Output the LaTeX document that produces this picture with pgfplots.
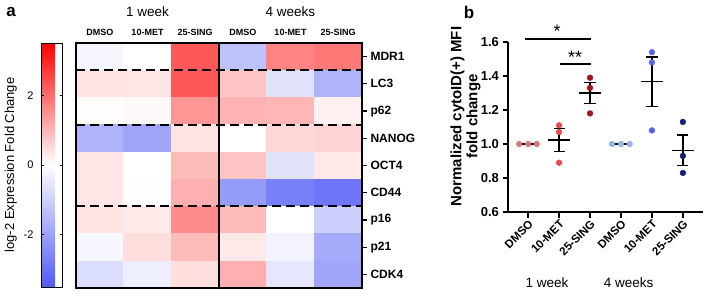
\documentclass[border=0pt]{standalone}
\usepackage{fontspec}
\setmainfont{Liberation Sans}
\usepackage{pgfplots}
\pgfplotsset{compat=1.18}
\definecolor{c1}{RGB}{215,120,125}
\definecolor{c2}{RGB}{235,75,80}
\definecolor{c3}{RGB}{165,20,30}
\definecolor{c4}{RGB}{150,180,225}
\definecolor{c5}{RGB}{85,100,235}
\definecolor{c6}{RGB}{20,30,120}
\begin{document}
\begin{tikzpicture}[x=1pt,y=1pt]
\useasboundingbox (0,0) rectangle (708,293);
\node[font=\bfseries\fontsize{17}{20}\selectfont] at (11,280.5) {a};
\node[font=\bfseries\fontsize{17}{20}\selectfont] at (469,280.5) {b};
% ---------------- heatmap ----------------
\begin{axis}[
  at={(76pt,5pt)}, anchor=south west,
  scale only axis, width=286pt, height=245pt,
  xmin=-0.5, xmax=5.5, ymin=-0.5, ymax=8.5, y dir=reverse,
  axis on top,
  axis line style={line width=2.2pt, black},
  xtick={0,...,5}, xticklabels={DMSO,10-MET,25-SING,DMSO,10-MET,25-SING},
  xtick pos=upper, xticklabel pos=upper,
  ytick={0,...,8}, yticklabels={MDR1,LC3,p62,NANOG,OCT4,CD44,p16,p21,CDK4},
  ytick pos=right, yticklabel pos=right,
  tick align=outside,
  xtick style={draw=none},
  ytick style={black, line width=1.3pt},
  major tick length=5pt,
  x tick label style={font=\bfseries\fontsize{9}{10}\selectfont, yshift=-1.5pt},
  y tick label style={font=\bfseries\fontsize{12}{14}\selectfont},
  colormap={bwr}{rgb255=(80,90,245) rgb255=(255,255,255) rgb255=(255,0,0)},
  point meta min=-3.5, point meta max=3.5,
  colorbar left,
  colorbar style={
     at={(parent axis.north west)}, anchor=north east, xshift=-5.46pt,
     width=21pt, height=244pt,
     ytick={-2,0,2}, yticklabels={-2,0,2},
     ytick pos=both, yticklabel pos=left,
     tick align=inside, major tick length=2.5pt,
     ytick style={black, line width=0.9pt},
     axis line style={line width=0.7pt},
     y tick label style={font=\fontsize{11}{13}\selectfont, xshift=-4pt},
     ylabel={log-2 Expression Fold Change},
     ylabel style={font=\fontsize{13}{15}\selectfont},
  },
  clip=false,
]
\addplot[matrix plot*, mesh/cols=6, point meta=explicit] table[meta=c] {
x y c
0 0 -0.2
1 0 0.0
2 0 2.3
3 0 -1.3
4 0 1.7
5 0 1.85
0 1 0.4
1 1 0.35
2 1 2.3
3 1 0.8
4 1 -0.6
5 1 -1.6
0 2 0.05
1 2 0.1
2 2 1.45
3 2 1.05
4 2 1.0
5 2 0.2
0 3 -1.6
1 3 -1.9
2 3 0.4
3 3 0.0
4 3 0.55
5 3 0.6
0 4 0.35
1 4 0.0
2 4 0.95
3 4 0.8
4 4 -0.6
5 4 0.3
0 5 0.35
1 5 0.02
2 5 1.1
3 5 -2.1
4 5 -2.7
5 5 -2.9
0 6 0.4
1 6 0.3
2 6 1.6
3 6 0.95
4 6 0.0
5 6 -1.0
0 7 -0.15
1 7 0.45
2 7 0.95
3 7 0.3
4 7 -0.25
5 7 -1.8
0 8 -0.7
1 8 -0.35
2 8 0.45
3 8 1.1
4 8 -0.5
5 8 -1.9
};
\addplot[black, line width=2pt, dash pattern=on 9pt off 5pt] coordinates {(-0.5,0.5) (5.5,0.5)};
\addplot[black, line width=2pt, dash pattern=on 9pt off 5pt] coordinates {(-0.5,2.5) (5.5,2.5)};
\addplot[black, line width=2pt, dash pattern=on 9pt off 5pt] coordinates {(-0.5,5.5) (5.5,5.5)};
\addplot[black, line width=2pt] coordinates {(2.5,-0.5) (2.5,8.5)};
\node[font=\fontsize{13.5}{16}\selectfont] at (axis cs:1,-1.64) {1 week};
\node[font=\fontsize{13.5}{16}\selectfont] at (axis cs:4,-1.64) {4 weeks};
\end{axis}
% ---------------- dot plot ----------------
\begin{axis}[
  at={(508pt,81pt)}, anchor=south west,
  scale only axis, width=195pt, height=170pt,
  xmin=-0.65, xmax=5.65, ymin=0.6, ymax=1.6,
  axis x line=bottom, axis y line=left,
  axis line style={-, line width=1.6pt, black},
  xtick={0,...,5}, xticklabels={DMSO,10-MET,25-SING,DMSO,10-MET,25-SING},
  ytick={0.6,0.8,1.0,1.2,1.4,1.6}, yticklabels={0.6,0.8,1.0,1.2,1.4,1.6},
  tick align=outside, major tick length=5.5pt,
  tick style={black, line width=1.4pt},
  x tick label style={rotate=45, anchor=north east, inner sep=1pt, font=\bfseries\fontsize{11.5}{13}\selectfont},
  y tick label style={font=\bfseries\fontsize{13}{15}\selectfont},
  ylabel={Normalized cytoID(+) MFI\\fold change},
  ylabel style={align=center, at={(axis description cs:-0.218,0.562)}, anchor=center, rotate=0, font=\bfseries\fontsize{15}{16}\selectfont},
  clip=false,
]
% DMSO means (behind dots)
\addplot[black, line width=1.5pt] coordinates {(-0.36,1) (0.36,1)};
\addplot[black, line width=1.5pt] coordinates {(2.64,1) (3.36,1)};
% dots
\addplot[only marks, mark=*, mark size=2.9pt, mark options={draw=c1, fill=c1}] coordinates {(-0.29,1) (0,1) (0.28,1)};
\addplot[only marks, mark=*, mark size=2.9pt, mark options={draw=c2, fill=c2}] coordinates {(1,1.11) (1,1.07) (1,0.89)};
\addplot[only marks, mark=*, mark size=2.9pt, mark options={draw=c3, fill=c3}] coordinates {(2,1.39) (2,1.33) (2,1.18)};
\addplot[only marks, mark=*, mark size=2.9pt, mark options={draw=c4, fill=c4}] coordinates {(2.71,1) (3,1) (3.28,1)};
\addplot[only marks, mark=*, mark size=2.9pt, mark options={draw=c5, fill=c5}] coordinates {(4,1.54) (4,1.48) (4,1.08)};
\addplot[only marks, mark=*, mark size=2.9pt, mark options={draw=c6, fill=c6}] coordinates {(5,1.13) (5,0.93) (5,0.83)};
% means and SEM
\addplot[black, line width=1.5pt] coordinates {(0.64,1.023) (1.36,1.023)};
\addplot[black, line width=1.5pt] coordinates {(1,0.956) (1,1.091)};
\addplot[black, line width=1.5pt] coordinates {(0.82,1.091) (1.18,1.091)};
\addplot[black, line width=1.5pt] coordinates {(0.82,0.956) (1.18,0.956)};
\addplot[black, line width=1.5pt] coordinates {(1.64,1.30) (2.36,1.30)};
\addplot[black, line width=1.5pt] coordinates {(2,1.2375) (2,1.3625)};
\addplot[black, line width=1.5pt] coordinates {(1.82,1.3625) (2.18,1.3625)};
\addplot[black, line width=1.5pt] coordinates {(1.82,1.2375) (2.18,1.2375)};
\addplot[black, line width=1.5pt] coordinates {(3.64,1.367) (4.36,1.367)};
\addplot[black, line width=1.5pt] coordinates {(4,1.222) (4,1.511)};
\addplot[black, line width=1.5pt] coordinates {(3.82,1.511) (4.18,1.511)};
\addplot[black, line width=1.5pt] coordinates {(3.82,1.222) (4.18,1.222)};
\addplot[black, line width=1.5pt] coordinates {(4.64,0.963) (5.36,0.963)};
\addplot[black, line width=1.5pt] coordinates {(5,0.875) (5,1.052)};
\addplot[black, line width=1.5pt] coordinates {(4.82,1.052) (5.18,1.052)};
\addplot[black, line width=1.5pt] coordinates {(4.82,0.875) (5.18,0.875)};
% significance
\addplot[black, line width=1.5pt] coordinates {(-0.1,1.6176) (2.03,1.6176)};
\addplot[black, line width=1.5pt] coordinates {(1.03,1.4706) (2.03,1.4706)};
\node[font=\fontsize{18}{20}\selectfont] at (axis cs:0.94,1.665) {*};
\node[font=\fontsize{18}{20}\selectfont] at (axis cs:1.52,1.512) {**};
\node[font=\fontsize{13.5}{16}\selectfont] at (axis cs:0.61,0.182) {1 week};
\node[font=\fontsize{13.5}{16}\selectfont] at (axis cs:3.25,0.182) {4 weeks};
\end{axis}
\end{tikzpicture}
\end{document}
